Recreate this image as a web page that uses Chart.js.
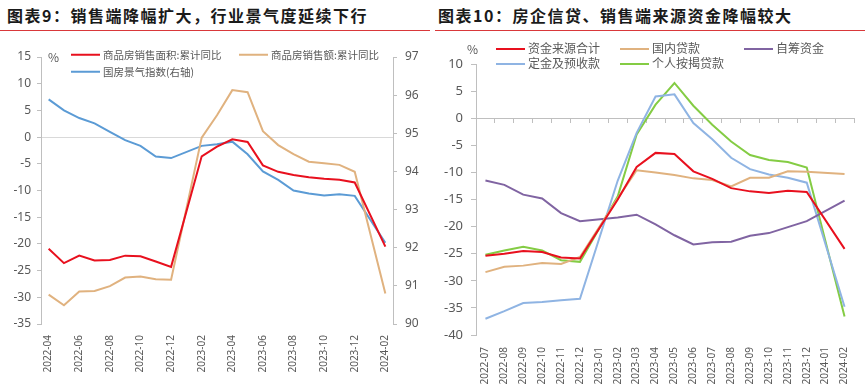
<!DOCTYPE html>
<html>
<head>
<meta charset="utf-8">
<script src="https://cdn.jsdelivr.net/npm/chart.js@4"></script>
<style>
body{margin:0;background:#fff;font-family:"Noto Sans CJK SC","Noto Sans",sans-serif;}
#wrap{position:relative;width:865px;height:387px;overflow:hidden;background:#fff;}
.title{position:absolute;top:0;width:430px;height:31px;line-height:31px;font-size:16px;font-weight:bold;color:#1a1a1a;letter-spacing:1.5px;border-bottom:1.5px solid #d9383a;white-space:nowrap;box-sizing:border-box;}
.box{position:absolute;top:35px;width:430px;height:352px;}
.lg{position:absolute;color:#595959;white-space:nowrap;transform:translateY(-50%);line-height:1;}
.lg i{display:inline-block;width:29px;height:2px;vertical-align:middle;margin-right:3px;position:relative;top:-1px;}
.pct{position:absolute;font-size:12px;color:#595959;line-height:1;}
</style>
</head>
<body>
<div id="wrap">
  <div class="title" style="left:0;padding-left:7px;">图表9：销售端降幅扩大，行业景气度延续下行</div>
  <div class="title" style="left:435px;padding-left:3px;">图表10：房企信贷、销售端来源资金降幅较大</div>
  <div class="box" style="left:0;"><canvas id="c1" width="430" height="352"></canvas></div>
  <div class="box" style="left:435px;"><canvas id="c2" width="430" height="352"></canvas></div>
  <div class="pct" style="left:48px;top:51px;">%</div>
  <div class="pct" style="left:467px;top:43px;">%</div>
  <div id="legend1"></div>
  <div id="legend2"></div>
</div>
<script>
// 左图：商品房销售 + 国房景气指数
const leftMonths = ['2022-04','2022-05','2022-06','2022-07','2022-08','2022-09','2022-10','2022-11','2022-12','2023-01',
  '2023-02','2023-03','2023-04','2023-05','2023-06','2023-07','2023-08','2023-09','2023-10','2023-11','2023-12','2024-01','2024-02'];
const leftNames = ['商品房销售面积:累计同比','商品房销售额:累计同比','国房景气指数(右轴)'];
const areaYoY = [-20.9,-23.6,-22.2,-23.1,-23.0,-22.2,-22.3,-23.3,-24.3,null,
  -3.6,-1.8,-0.4,-0.9,-5.3,-6.5,-7.1,-7.5,-7.8,-8.0,-8.5,null,-20.5];
const salesYoY = [-29.5,-31.5,-28.9,-28.8,-27.9,-26.3,-26.1,-26.6,-26.7,null,
  -0.1,4.1,8.8,8.4,1.1,-1.5,-3.2,-4.6,-4.9,-5.2,-6.5,null,-29.3];
const climateIdx = [95.89,95.6,95.4,95.26,95.04,94.82,94.67,94.39,94.35,null,
  94.67,94.71,94.78,94.45,94.0,93.78,93.5,93.42,93.37,93.4,93.36,null,92.13];

// 右图：到位资金分项
const rightMonths = ['2022-07','2022-08','2022-09','2022-10','2022-11','2022-12','2023-01','2023-02','2023-03','2023-04',
  '2023-05','2023-06','2023-07','2023-08','2023-09','2023-10','2023-11','2023-12','2024-01','2024-02'];
const rightNames = ['资金来源合计','国内贷款','自筹资金','定金及预收款','个人按揭贷款'];
const totalFunds = [-25.4,-25.0,-24.5,-24.7,-25.7,-25.9,null,-15.0,-9.0,-6.4,-6.6,-9.8,-11.2,-12.9,-13.5,-13.8,-13.4,-13.6,null,-24.1];
const domesticLoans = [-28.4,-27.4,-27.2,-26.7,-26.9,-25.6,null,-14.8,-9.6,-10.0,-10.5,-11.1,-11.4,-12.6,-11.0,-11.0,-9.8,-9.9,null,-10.3];
const selfRaised = [-11.5,-12.3,-14.1,-14.8,-17.5,-19.0,null,-18.3,-17.8,-19.6,-21.6,-23.3,-22.9,-22.8,-21.7,-21.2,-20.1,-19.0,null,-15.2];
const deposits = [-37.0,-35.6,-34.1,-33.9,-33.6,-33.3,null,-11.5,-2.7,4.0,4.4,-0.9,-3.9,-7.3,-9.4,-10.4,-11.0,-11.9,null,-34.8];
const mortgages = [-25.2,-24.4,-23.7,-24.4,-26.2,-26.5,null,-14.4,-3.0,2.5,6.5,2.3,-1.2,-4.3,-6.8,-7.7,-8.1,-9.1,null,-36.6];

const leftColors = ['#e8101e','#e0b27f','#5b9bd5'];
const rightColors = ['#e8101e','#e0b27f','#8064a2','#8fb4e3','#84cc44'];

Chart.defaults.font.family = '"Noto Sans","Noto Sans CJK SC",sans-serif';
Chart.defaults.color = '#595959';

const axisGray = '#bfbfbf';

function makeLegend(id, names, colors, spots, size) {
  let html = '';
  names.forEach((n, i) => {
    html += `<div class="lg" style="left:${spots[i][0]}px;top:${spots[i][1]}px;font-size:${size}px;"><i style="background:${colors[i]}"></i>${n}</div>`;
  });
  document.getElementById(id).innerHTML = html;
}

makeLegend('legend1', leftNames, leftColors, [[71,55],[239,55],[71,72]], 10.5);
makeLegend('legend2', rightNames, rightColors, [[496,48],[620,48],[744,48],[496,63],[620,63]], 12);

const common = {
  responsive: false,
  animation: false,
  devicePixelRatio: 1,
  spanGaps: true,
  elements: { point: { radius: 0 }, line: { borderWidth: 2, tension: 0 } },
  plugins: { legend: { display: false }, tooltip: { enabled: false } }
};

new Chart(document.getElementById('c1'), {
  type: 'line',
  data: {
    labels: leftMonths,
    datasets: [
      { label: leftNames[0], data: areaYoY, borderColor: leftColors[0], yAxisID: 'y' },
      { label: leftNames[1], data: salesYoY, borderColor: leftColors[1], yAxisID: 'y' },
      { label: leftNames[2], data: climateIdx, borderColor: leftColors[2], yAxisID: 'y1' }
    ]
  },
  options: {
    ...common,
    layout: { padding: { top: 22, left: 0, right: 0, bottom: 0 } },
    scales: {
      x: {
        offset: true,
        grid: { display: false },
        border: { display: false },
        ticks: {
          autoSkip: false, minRotation: 90, maxRotation: 90, padding: 3,
          font: { size: 10 },
          callback: (v, i) => i % 2 === 0 ? leftMonths[i] : ''
        },
        afterFit: s => { s.height = 63; }
      },
      y: {
        position: 'left', min: -35, max: 15,
        ticks: { stepSize: 5, padding: 6, font: { size: 12 } },
        grid: { color: c => c.tick.value === 0 ? '#d9d9d9' : 'rgba(0,0,0,0)', tickColor: axisGray, tickLength: 4 },
        border: { color: axisGray },
        afterFit: s => { s.width = 41; }
      },
      y1: {
        position: 'right', min: 90, max: 97,
        ticks: { stepSize: 1, padding: 8, font: { size: 12 } },
        grid: { drawOnChartArea: false, tickColor: axisGray, tickLength: 4 },
        border: { color: axisGray },
        afterFit: s => { s.width = 37; }
      }
    }
  }
});

new Chart(document.getElementById('c2'), {
  type: 'line',
  data: {
    labels: rightMonths,
    datasets: [
      { label: rightNames[0], data: totalFunds, borderColor: rightColors[0] },
      { label: rightNames[1], data: domesticLoans, borderColor: rightColors[1] },
      { label: rightNames[2], data: selfRaised, borderColor: rightColors[2] },
      { label: rightNames[3], data: deposits, borderColor: rightColors[3] },
      { label: rightNames[4], data: mortgages, borderColor: rightColors[4] }
    ]
  },
  options: {
    ...common,
    layout: { padding: { top: 29, left: 0, right: 11, bottom: 0 } },
    scales: {
      x: {
        offset: true,
        grid: { display: false },
        border: { display: false },
        ticks: { autoSkip: false, minRotation: 90, maxRotation: 90, padding: 4, font: { size: 10 } },
        afterFit: s => { s.height = 52; }
      },
      x2: {
        type: 'category',
        position: { y: 0 },
        offset: true,
        grid: { drawOnChartArea: false, offset: true, tickLength: 4, tickColor: axisGray },
        border: { color: axisGray },
        ticks: { display: false }
      },
      y: {
        position: 'left', min: -40, max: 10,
        ticks: { stepSize: 5, padding: 8, font: { size: 13 } },
        grid: { drawOnChartArea: false, tickColor: axisGray, tickLength: 5 },
        border: { color: axisGray },
        afterFit: s => { s.width = 41; }
      }
    }
  }
});
</script>
</body>
</html>
